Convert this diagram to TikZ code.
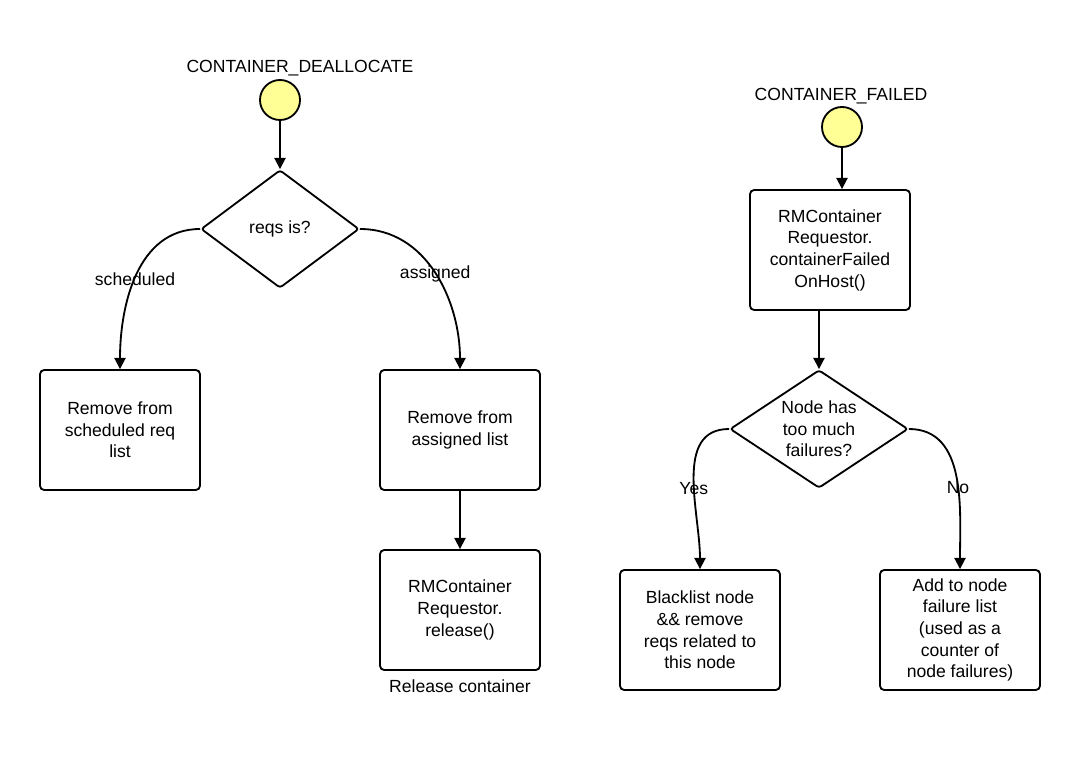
\documentclass[tikz,border=0pt]{standalone}
\usepackage{fontspec}
\setmainfont{Liberation Sans}
\usetikzlibrary{shapes.geometric, arrows.meta}
\definecolor{startyellow}{RGB}{255,255,150}

\begin{document}
\begin{tikzpicture}[x=0.025cm, y=-0.025cm, every node/.style={font=\fontsize{12.5}{15.4}\selectfont}]
        \tikzstyle{start} = [draw, circle, fill=startyellow, minimum size=1cm, inner sep=0pt, line width=1.3pt]
        \tikzstyle{decision} = [draw, diamond, minimum width=3.95cm, minimum height=2.95cm, inner sep=0pt, line width=1.3pt, rounded corners=2pt]
        \tikzstyle{act} = [draw, rectangle, rounded corners=3pt, minimum width=4cm, minimum height=3cm, align=center, line width=1.3pt]
        \tikzstyle{flow} = [-{Triangle[length=2.8mm, width=2.8mm]}, line width=1.3pt]
        \useasboundingbox (0,0) rectangle (1080,760);
        % CONTAINER_DEALLOCATE
        \node (tdealloc) at (300, 68) {CONTAINER\_DEALLOCATE};
        \node[start] (sdealloc) at (280, 100) {};
        \node[decision, label={center:reqs is?}] (reqs) at (280, 229) {};
        \node[act] (rmsched) at (120, 430) {Remove from\\scheduled req\\list};
        \node[act] (rmassign) at (460, 430) {Remove from\\assigned list};
        \node[act, label={[yshift=-3pt]below:Release container}] (release) at (460, 610) {RMContainer\\Requestor.\\release()};
        \draw[flow] (sdealloc) -- (reqs);
        \draw[flow] (reqs.west) to[out=180, in=90] node[pos=0.52] {scheduled} (rmsched.north);
        \draw[flow] (reqs.east) to[out=0, in=90] node[pos=0.5] {assigned} (rmassign.north);
        \draw[flow] (rmassign) -- (release);
        % CONTAINER_FAILED
        \node (tfailed) at (841, 96) {CONTAINER\_FAILED};
        \node[start] (sfailed) at (842, 127) {};
        \node[act] (onhost) at (830, 250) {RMContainer\\Requestor.\\containerFailed\\OnHost()};
        \node[decision, minimum width=4.45cm, label={[align=center]center:Node has\\too much\\failures?}] (toomuch) at (819, 429) {};
        \node[act] (blacklist) at (700, 630) {Blacklist node\\\&\& remove\\reqs related to\\this node};
        \node[act] (failist) at (960, 630) {Add to node\\failure list\\(used as a\\counter of\\node failures)};
        \draw[flow] (sfailed) -- (sfailed |- onhost.north);
        \draw[flow] (toomuch |- onhost.south) -- (toomuch);
        \draw[flow] (toomuch.west) to[out=180, in=90] node[pos=0.56] {Yes} (blacklist.north);
        \draw[flow] (toomuch.east) to[out=0, in=90] node[pos=0.56] {No} (failist.north);
\end{tikzpicture}
\end{document}
